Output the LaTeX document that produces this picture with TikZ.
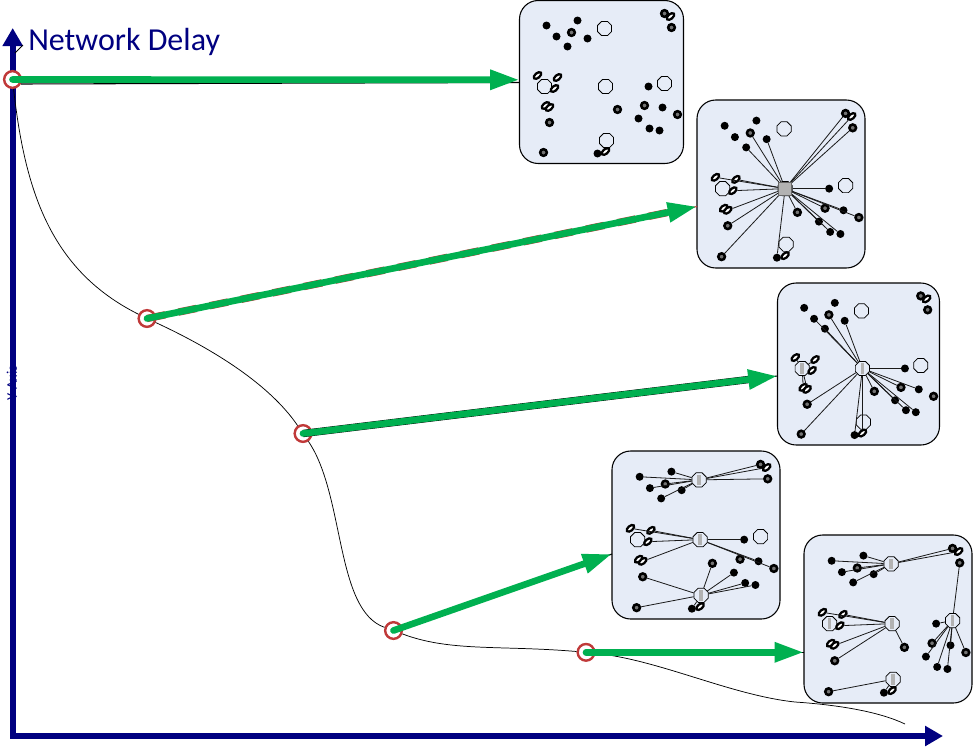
\documentclass[tikz,border=0pt]{standalone}
\usepackage{fontspec}
\setmainfont{Carlito}
\usetikzlibrary{arrows.meta,shapes.geometric}

\definecolor{axisblue}{RGB}{0,0,128}
\definecolor{flowgreen}{RGB}{0,176,80}
\definecolor{markred}{RGB}{192,57,57}
\definecolor{panelfill}{RGB}{230,236,247}

\tikzset{
  axisline/.style={draw=axisblue, line width=4.2pt, {Triangle[length=13.5pt,width=14.5pt]}-{Triangle[length=13.5pt,width=14.5pt]}},
  delaycurve/.style={draw=black, line width=0.55pt},
  marker/.style={circle, draw=markred, fill=white, line width=1.8pt, minimum size=12.5pt, inner sep=0pt},
  flowarrow/.style={draw=flowgreen, line width=5pt, line cap=round, -{Triangle[length=22pt,width=14pt]}},
  flowlink/.style={draw=black, line width=0.8pt},
  flowedge/.style={line width=5.5pt, shorten >=16pt},
  panelbox/.style={draw=black, fill=panelfill, line width=0.8pt, rounded corners=14pt, inner sep=0pt},
  hub/.style={regular polygon, regular polygon sides=8, draw=black, line width=0.55pt, minimum size=11.5pt, inner sep=0pt},
  hubbar/.style={rectangle, fill=black!30, minimum width=2.6pt, minimum height=8pt, inner sep=0pt},
  hubsquare/.style={rectangle, draw=black!60, fill=black!30, line width=0.5pt, minimum size=9.5pt, inner sep=0pt},
  sensor/.style={circle, fill=black, minimum size=6pt, inner sep=0pt},
  sensorring/.style={circle, draw=black, fill=black!55, line width=1.9pt, minimum size=5pt, inner sep=0pt},
  sensoropen/.style={ellipse, rotate=40, draw=black, fill=white, line width=1.7pt, minimum width=6.6pt, minimum height=3.6pt, inner sep=0pt},
  hublink/.style={draw=black!90, line width=0.6pt}
}

\newcommand{\sensorlist}{s1/27/25/sensor, s2/58/20/sensor, s3/37/36/sensor, s4/52/32/sensorring,
  s5/68/38/sensor, s6/48/46/sensor, s7/145/13/sensorring, s8/151/16/sensoropen, s9/152/27/sensorring,
  s10/18/75/sensoropen, s11/38/77/sensoropen, s12/35/88/sensoropen, s13/26/105/sensoropen,
  s14/30/107/sensoropen, s15/30/122/sensorring, s16/24/152/sensorring, s17/78/153/sensor,
  s18/86/151/sensoropen, s19/98/109/sensorring, s20/129/86/sensor, s21/125/105/sensorring,
  s22/143/107/sensor, s23/119/118/sensor, s24/158/114/sensorring, s25/130/128/sensor, s26/140/130/sensor}

\newcommand{\placepanel}[5]{
  \begin{scope}[shift={(#2,#3)}, xscale=#4/164, yscale=#5/163]
    \node[panelbox, minimum width=#4*0.75pt, minimum height=#5*0.75pt] (#1) at (82,81.5) {};
    \foreach \hname/\hx/\hy in {h1/85/28, h2/25/86, h3/86/86, h4/145/83, h5/87/140}
      \node[hub] (#1\hname) at (\hx,\hy) {};
    \foreach \sname/\sx/\sy/\skind in \sensorlist
      \node[\skind] (#1\sname) at (\sx,\sy) {};
  \end{scope}
}

\newcommand{\linkhub}[3]{
  \foreach \sname in {#3}
    \draw[hublink] (#1#2) -- (#1\sname);
}

\begin{document}
\begin{tikzpicture}[x=0.75pt, y=-0.75pt]

\useasboundingbox (0,0) rectangle (973,746);

\node[text=axisblue, rotate=90, font=\fontsize{11}{12}\selectfont] (yaxislabel) at (12,383) {Y Axis};

\coordinate (ytip) at (12.7,28);
\coordinate (corner) at (12.7,736);
\coordinate (xtip) at (943,736);
\draw[axisline] (ytip) -- (corner) -- (xtip);

\node[anchor=base west, text=axisblue, inner sep=0pt, font=\fontsize{24}{29}\selectfont] (ytitle) at (28,50) {Network Delay};

\coordinate (stubstart) at (15,53);
\coordinate (stubend) at (23,45);
\draw[delaycurve] (stubstart) -- (stubend);

\placepanel{pa}{519.5}{0.5}{164}{163}
\placepanel{pb}{697}{100}{168}{168}
\placepanel{pc}{777.5}{283}{162}{162}
\placepanel{pd}{612}{451}{168}{168}
\placepanel{pe}{804}{535}{168}{168}

\linkhub{pb}{h3}{s4,s5,s6,s7,s8,s9,s10,s11,s12,s14,s15,s16,s17,s19,s20,s21,s22,s23,s24,s25,s26}

\linkhub{pc}{h3}{s3,s4,s5,s6,s15,s16,s17,s18,s19,s20,s21,s22,s23,s25,s26}
\linkhub{pc}{h2}{s10,s11,s12,s13,s14}

\linkhub{pd}{h1}{s1,s2,s3,s4,s5,s6,s7,s8,s9}
\linkhub{pd}{h3}{s10,s11,s12,s14,s20,s22,s24}
\linkhub{pd}{h5}{s15,s16,s17,s18,s19,s23,s25,s26}

\linkhub{pe}{h1}{s1,s2,s3,s4,s5,s6,s7,s8}
\linkhub{pe}{h3}{s10,s11,s12,s14,s15,s19}
\linkhub{pe}{h4}{s9,s20,s21,s22,s23,s24,s25,s26}
\linkhub{pe}{h5}{s16,s17,s18}

\foreach \hubname in {pch2,pch3,pdh1,pdh3,pdh5,peh1,peh2,peh3,peh4,peh5}
  \node[hubbar] (\hubname bar) at (\hubname) {};
\node[hubsquare] (pbh3bar) at (pbh3) {};

\node[marker] (ma) at (12.5,79.5) {};
\node[marker] (mb) at (147,318.5) {};
\node[marker] (mc) at (303,433.5) {};
\node[marker] (md) at (393.5,630.5) {};
\node[marker] (me) at (586,652.3) {};

\coordinate (curveknee) at (795,702);
\coordinate (curveend) at (905,724);
\draw[delaycurve] (ma) .. controls (25,190) and (50,270) .. (mb);
\draw[delaycurve] (mb) .. controls (215,350) and (270,385) .. (mc);
\draw[delaycurve] (mc) .. controls (345,495) and (335,610) .. (md);
\draw[delaycurve] (md) .. controls (450,652) and (500,645) .. (me);
\draw[delaycurve] (me) .. controls (660,660) and (730,695) .. (curveknee) .. controls (840,705) and (880,712) .. (curveend);

\coordinate (la) at (21,84);
\coordinate (lb) at (519.5,82.5);
\coordinate (ta) at (519.5,79.8);
\coordinate (tb) at (697,206.5);
\coordinate (tc) at (777.5,376);
\coordinate (td) at (612,554);
\coordinate (te) at (804,652.3);

\draw[flowlink] (la) -- (lb);
\draw[flowlink, draw=markred] (mb.center) -- (tb);
\draw[flowedge, draw=markred, dash pattern=on 14pt off 10pt] (mb.center) -- (tb);
\draw[flowlink] (mc.center) -- (tc);
\draw[flowedge, draw=black] (mc.center) -- (tc);
\draw[flowlink] (md.center) -- (td);
\draw[flowlink] (me.center) -- (te);

\draw[flowarrow] (ma.center) -- (ta);
\draw[flowarrow] (mb.center) -- (tb);
\draw[flowarrow] (mc.center) -- (tc);
\draw[flowarrow] (md.center) -- (td);
\draw[flowarrow] (me.center) -- (te);

\end{tikzpicture}
\end{document}
